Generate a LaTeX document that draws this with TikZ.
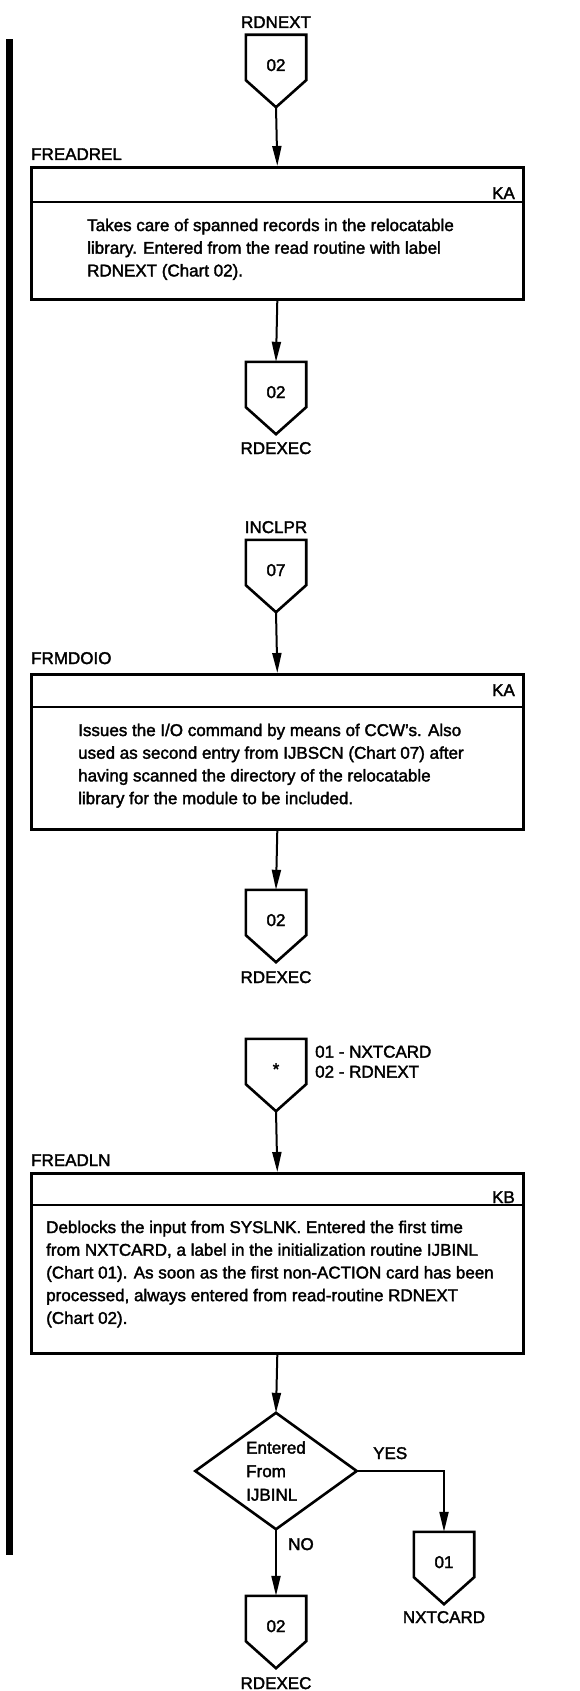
\documentclass[tikz,border=0pt]{standalone}
\usepackage{fontspec}
\setmainfont{Liberation Sans}[FakeBold=2]
\usetikzlibrary{arrows.meta,calc}
\tikzset{
  lbl/.style={font=\fontsize{17}{22.5}\selectfont, inner sep=0pt},
  procbox/.style={draw, line width=2.6pt, minimum width=492pt, inner sep=0pt, anchor=north west},
  body/.style={font=\fontsize{17}{22.7}\selectfont, align=left, inner sep=0pt, anchor=north west},
  offpg/.style={minimum width=60pt, inner sep=0pt, text height=36pt, text depth=36pt, font=\fontsize{17}{20}\selectfont},
  flow/.style={line width=2pt, -{Triangle[length=20pt,width=9pt]}},
  conline/.style={line width=2.6pt, line join=miter},
}
\newcommand\offpgdraw[1]{\draw[conline] (#1.north west) -- (#1.north east) -- ([yshift=27pt]#1.south east) -- (#1.south) -- ([yshift=27pt]#1.south west) -- cycle;}
\begin{document}
\begin{tikzpicture}[x=1pt,y=-1pt]
\useasboundingbox (0,0) rectangle (579,1691);
% left change bar
\fill (5.5,39) rectangle (12.5,1555);

% ---- first section
\node[lbl, anchor=base] (t1) at (276,28) {RDNEXT};
\node[offpg] (c1) at (276,71) {02};
\offpgdraw{c1}
\node[lbl, anchor=base west] (l1) at (31,160) {FREADREL};
\node[procbox, minimum height=132pt] (b1) at (30,166) {};
\draw[conline] ($(b1.north west)+(0,36)$) -- ($(b1.north east)+(0,36)$);
\node[lbl, anchor=base east] (k1) at (515,199) {KA};
\node[body] (x1) at (87,218.5) {Takes care of spanned records in the relocatable\\library.  Entered from the read routine with label\\RDNEXT (Chart 02).};
\draw[flow] (c1.south) -- (b1.north);
\node[offpg] (c2) at (276,398) {02};
\offpgdraw{c2}
\node[lbl, anchor=base] (t2) at (276,454) {RDEXEC};
\draw[flow] (b1.south) -- (c2.north);

% ---- second section
\node[lbl, anchor=base] (t3) at (276,533) {INCLPR};
\node[offpg] (c3) at (276,576) {07};
\offpgdraw{c3}
\node[lbl, anchor=base west] (l2) at (31,664) {FRMDOIO};
\node[procbox, minimum height=155pt] (b2) at (30,673) {};
\draw[conline] ($(b2.north west)+(0,34)$) -- ($(b2.north east)+(0,34)$);
\node[lbl, anchor=base east] (k2) at (515,696) {KA};
\node[body] (x2) at (78,723.5) {Issues the I/O command by means of CCW's.  Also\\used as second entry from IJBSCN (Chart 07) after\\having scanned the directory of the relocatable\\library for the module to be included.};
\draw[flow] (c3.south) -- (b2.north);
\node[offpg] (c4) at (276,926) {02};
\offpgdraw{c4}
\node[lbl, anchor=base] (t4) at (276,983) {RDEXEC};
\draw[flow] (b2.south) -- (c4.north);

% ---- third section
\node[offpg] (c5) at (276,1075) {*};
\offpgdraw{c5}
\node[lbl, align=left, anchor=north west, font=\fontsize{17}{20}\selectfont] (t5) at (315,1045.5) {01 - NXTCARD\\02 - RDNEXT};
\node[lbl, anchor=base west] (l3) at (31,1166) {FREADLN};
\node[procbox, minimum height=180pt] (b3) at (30,1172) {};
\draw[conline] ($(b3.north west)+(0,33)$) -- ($(b3.north east)+(0,33)$);
\node[lbl, anchor=base east] (k3) at (515,1203) {KB};
\node[body] (x3) at (46,1220.5) {Deblocks the input from SYSLNK.  Entered the first time\\from NXTCARD, a label in the initialization routine IJBINL\\(Chart 01).  As soon as the first non-ACTION card has been\\processed, always entered from read-routine RDNEXT\\(Chart 02).};
\draw[flow] (c5.south) -- (b3.north);

% decision
\node[minimum width=161pt, minimum height=116pt, inner sep=0pt, align=left, font=\fontsize{17}{23.5}\selectfont] (d) at (276,1471) {Entered\\From\\IJBINL};
\draw[conline] (d.north) -- (d.east) -- (d.south) -- (d.west) -- cycle;
\draw[flow] (b3.south) -- (d.north);

\node[offpg] (c6) at (444,1568) {01};
\offpgdraw{c6}
\node[lbl, anchor=base] (t6) at (444,1623) {NXTCARD};
\draw[flow] (d.east) -| (c6.north);
\node[lbl, anchor=base west] (yes) at (373,1459) {YES};

\node[offpg] (c7) at (276,1632) {02};
\offpgdraw{c7}
\node[lbl, anchor=base] (t7) at (276,1689) {RDEXEC};
\draw[flow] (d.south) -- (c7.north);
\node[lbl, anchor=base] (no) at (301,1550) {NO};
\end{tikzpicture}
\end{document}
